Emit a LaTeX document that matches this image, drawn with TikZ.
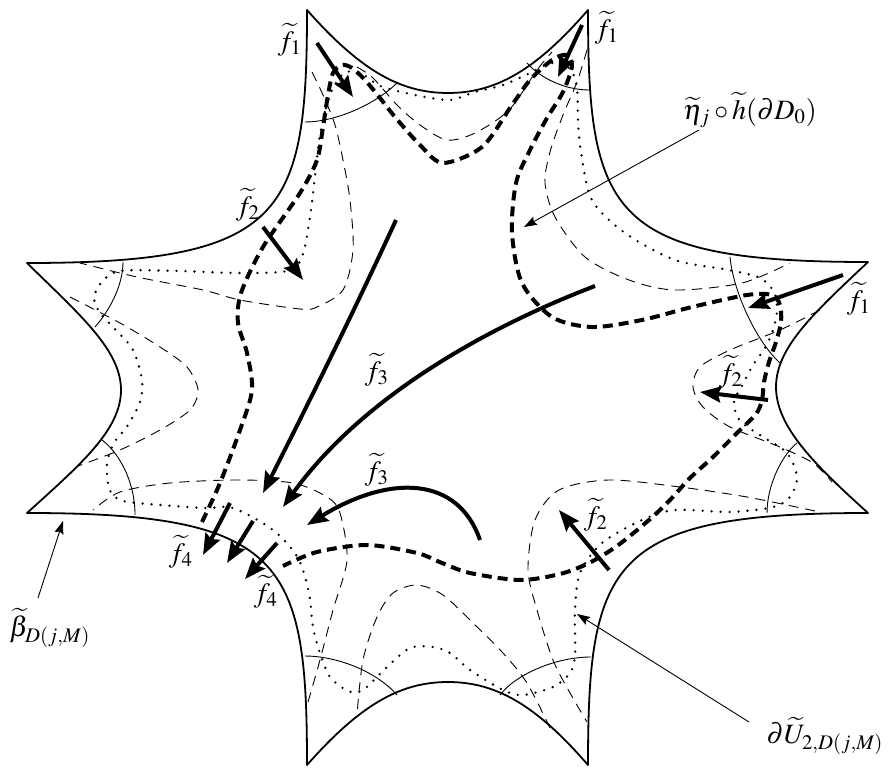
\documentclass[tikz,border=0pt]{standalone}
\usepackage{mathptmx}
\usetikzlibrary{arrows.meta}
\begin{document}
\begin{tikzpicture}[x=0.5pt,y=-0.5pt,
  outline/.style={line width=0.9pt, line join=round},
  horo/.style={line width=0.45pt},
  thindash/.style={line width=0.45pt, dash pattern=on 5pt off 3.5pt},
  thickdash/.style={line width=2pt, dash pattern=on 5pt off 3pt},
  dotline/.style={line width=1.3pt, line cap=round, dash pattern=on 0pt off 4.5pt},
  farrow/.style={line width=2pt, -{Stealth[length=10.5pt,width=8pt,inset=1.5pt]}},
  annot/.style={line width=0.45pt, -{Stealth[length=6.5pt,width=4.5pt,inset=1pt]}},
  lbl/.style={font=\fontsize{14}{16}\selectfont, inner sep=0pt}]
\useasboundingbox (0,0) rectangle (892,769);

% outline
\draw[outline] (307,10) .. controls (360,70) and (400,93) .. (448,93) .. controls (496,93) and (536,70) .. (588,10)
 .. controls (588,214) and (610,262) .. (868,262)
 .. controls (815,312) and (776,347) .. (776,387) .. controls (776,427) and (815,465) .. (868,513)
 .. controls (610,513) and (588,561) .. (588,765)
 .. controls (536,705) and (496,682) .. (448,682) .. controls (400,682) and (360,705) .. (307,765)
 .. controls (307,561) and (285,513) .. (27,513)
 .. controls (80,465) and (121,430) .. (121,390) .. controls (121,350) and (80,315) .. (27,263)
 .. controls (285,263) and (307,215) .. (307,10) -- cycle;

% horocycle arcs
\draw[horo] (305,122) .. controls (335,122) and (375,105) .. (398,82);
\draw[horo] (527,63) .. controls (540,78) and (565,90) .. (589,90);
\draw[horo] (730,257) .. controls (733,290) and (755,340) .. (780,363);
\draw[horo] (797,443) .. controls (782,455) and (767,485) .. (767,513);
\draw[horo] (500,695) .. controls (515,675) and (555,657) .. (591,657);
\draw[horo] (305,656) .. controls (335,656) and (375,670) .. (397,695);
\draw[horo] (102,440) .. controls (118,452) and (135,480) .. (135,515);
\draw[horo] (123,262) .. controls (123,285) and (110,310) .. (95,327);

% thin dashed curves
\draw[thindash] plot[smooth] coordinates {(312,72) (323,95) (335,125) (343,160) (350,200) (353,250) (343,290) (317,307) (300,309) (240,300) (203,290) (137,277) (80,263)};
\draw[thindash] plot[smooth] coordinates {(357,67) (373,78) (397,105) (420,125) (447,140) (475,133) (509,110) (537,70) (552,52)};
\draw[thindash] plot[smooth] coordinates {(587,50) (577,82) (563,115) (550,152) (545,183) (555,217) (585,257) (629,280) (675,290) (742,283) (790,263)};
\draw[thindash] plot[smooth] coordinates {(820,310) (780,330) (730,350) (700,367) (693,387) (703,407) (730,427) (780,447) (813,463) (832,482)};
\draw[thindash] plot[smooth] coordinates {(815,511) (747,497) (680,487) (609,480) (559,490) (535,520) (528,570) (537,610) (553,660) (570,693) (587,722)};
\draw[thindash] plot[smooth] coordinates {(550,728) (527,683) (503,653) (473,623) (443,595) (417,585) (393,593) (377,617) (363,660) (357,715)};
\draw[thindash] plot[smooth] coordinates {(308,702) (320,660) (333,610) (347,560) (340,513) (327,497) (293,483) (237,480) (170,483) (120,492) (93,510)};
\draw[thindash] plot[smooth] coordinates {(70,297) (120,323) (160,347) (187,367) (198,390) (190,410) (160,430) (120,450) (78,466)};

% dotted closed curve
\draw[dotline] plot[smooth cycle] coordinates {(320,135) (326,108) (334,86) (346,72) (362,74) (378,85) (393,90) (420,96) (450,100) (475,92) (503,85) (530,73) (548,64) (562,63) (572,72) (577,88) (578,120) (581,152) (592,200) (625,233) (675,260) (729,270) (760,278) (774,292) (777,310) (773,330) (765,348) (753,365) (743,384) (734,402) (740,421) (763,437) (787,453) (797,477) (790,497) (773,507) (730,512) (675,510) (642,520) (602,543) (580,573) (575,610) (575,655) (570,673) (553,687) (523,695) (503,690) (470,670) (450,653) (433,647) (410,648) (387,667) (363,690) (348,691) (330,677) (320,653) (313,627) (309,593) (298,558) (273,530) (233,508) (203,508) (137,503) (118,499) (109,488) (107,463) (114,443) (128,425) (140,402) (142,380) (133,350) (114,328) (100,313) (94,298) (101,283) (120,271) (180,271) (237,273) (287,271) (302,257) (310,217) (316,167)};

% thick dashed curve
\draw[thickdash] plot[smooth] coordinates {(202,522) (220,483) (240,430) (252,390) (247,353) (238,323) (241,293) (263,247) (300,193) (317,160) (323,127) (328,95) (333,73) (342,65) (352,68) (365,80) (380,98) (395,117) (420,145) (443,163) (482,147) (510,108) (530,80) (552,60) (566,55) (572,66) (563,92) (547,118) (530,150) (516,183) (512,233) (522,283) (552,317) (592,327) (642,320) (692,307) (747,295) (772,295) (780,305) (781,322) (776,342) (769,362) (764,382) (762,400) (756,414) (737,433) (713,457) (690,478) (670,500) (649,520) (617,546) (589,563) (560,574) (520,580) (470,573) (442,563) (417,553) (367,545) (317,552) (283,566)};

% thick arrows
\draw[farrow] (317,43) -- (353,97);
\draw[farrow] (582,25) -- (558,77);
\draw[farrow] (843,275) -- (748,308);
\draw[farrow] (263,227) -- (303,280);
\draw[farrow] (768,400) -- (700,392);
\draw[farrow] (609,570) -- (559,510);
\draw[farrow] (396,220) .. controls (350,320) and (300,420) .. (263,493);
\draw[farrow] (595,286) .. controls (480,330) and (360,400) .. (283,507);
\draw[farrow] (480,540) .. controls (458,476) and (390,474) .. (307,525);
\draw[farrow] (230,503) -- (203,555);
\draw[farrow] (253,521) -- (227,563);
\draw[farrow] (277,543) -- (245,579);

% labels
\node[lbl] (f1a) at (290,40) {$\widetilde{f}_1$};
\node[lbl] (f1b) at (607,28) {$\widetilde{f}_1$};
\node[lbl] (f1c) at (859,299) {$\widetilde{f}_1$};
\node[lbl] (f2a) at (248,205) {$\widetilde{f}_2$};
\node[lbl] (f2b) at (731,372) {$\widetilde{f}_2$};
\node[lbl] (f2c) at (596,515) {$\widetilde{f}_2$};
\node[lbl] (f3a) at (377,370) {$\widetilde{f}_3$};
\node[lbl] (f3b) at (377,470) {$\widetilde{f}_3$};
\node[lbl] (f4a) at (181,552) {$\widetilde{f}_4$};
\node[lbl] (f4b) at (266,592) {$\widetilde{f}_4$};
\node[lbl] (eta) at (750,110) {$\widetilde{\eta}_j\circ\widetilde{h}(\partial D_0)$};
\node[lbl] (beta) at (50,628) {$\widetilde{\beta}_{D(j,M)}$};
\node[lbl] (dU) at (825,736) {$\partial\widetilde{U}_{2,D(j,M)}$};

% annotation arrows
\coordinate (etatip) at (524,227);
\coordinate (betatip) at (63,521);
\coordinate (dUtip) at (577,614);
\coordinate (etatail) at (699,130);
\coordinate (betatail) at (38,598);
\coordinate (dUtail) at (749,722);
\draw[annot] (etatail) -- (etatip);
\draw[annot] (betatail) -- (betatip);
\draw[annot] (dUtail) -- (dUtip);
\end{tikzpicture}
\end{document}
